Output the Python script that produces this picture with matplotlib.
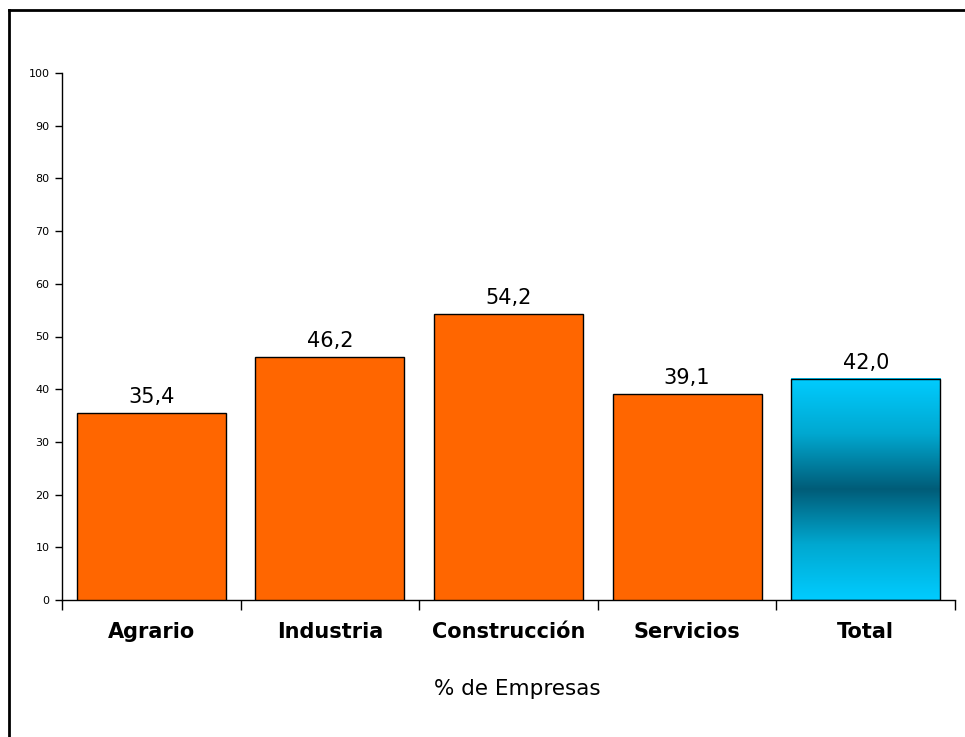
import matplotlib
matplotlib.use("Agg")
import matplotlib.pyplot as plt
import numpy as np
from matplotlib.colors import LinearSegmentedColormap
from matplotlib.lines import Line2D

categories = ["Agrario", "Industria", "Construcción", "Servicios", "Total"]
values = [35.4, 46.2, 54.2, 39.1, 42.0]
value_labels = ["35,4", "46,2", "54,2", "39,1", "42,0"]
yticks = [0, 10, 20, 30, 40, 50, 60, 70, 80, 90, 100]
xlabel = "% de Empresas"

plt.rcParams['font.family'] = ['DejaVu Sans']

fig = plt.figure(figsize=(9.65, 7.37), dpi=100)
ax = fig.add_axes([62/965, 1-600/737, 893/965, 527/737])

x = np.arange(len(categories))
width = 0.835
colors = ["#FF6600"] * 4 + ["none"]
bars = ax.bar(x, values, width=width, color=colors, edgecolor="black", linewidth=1.0, zorder=3)

# gradient fill for Total bar
cmap = LinearSegmentedColormap.from_list("tot", ["#00CCFF", "#00A8D0", "#005C78", "#00A8D0", "#00CCFF"])
tb = bars[-1]
bx, by = tb.get_x(), tb.get_y()
bw, bh = tb.get_width(), tb.get_height()
grad = np.linspace(0, 1, 256).reshape(-1, 1)
ax.imshow(grad, cmap=cmap, aspect="auto", extent=[bx, bx + bw, by, by + bh], zorder=2, origin="lower")

for xi, v, lab in zip(x, values, value_labels):
    ax.text(xi, v + 1.9, lab, ha="center", va="baseline", fontsize=15, color="black")

ax.set_xlim(-0.5, len(categories) - 0.5)
ax.set_ylim(0, 100)
ax.set_yticks(yticks)
ax.set_yticklabels([str(t) for t in yticks], fontsize=8)
ax.tick_params(axis="y", length=5, width=1, pad=4, direction="out")

ax.set_xticks(x)
ax.set_xticklabels(categories, fontsize=15, fontweight="bold")
ax.tick_params(axis="x", length=0, pad=16)
ax.set_xticks(np.arange(len(categories) + 1) - 0.5, minor=True)
ax.tick_params(axis="x", which="minor", length=7, width=1, direction="out")

ax.set_xlabel(xlabel, fontsize=15.5)
ax.xaxis.set_label_coords(0.5095, -0.150)

for s in ["top", "right"]:
    ax.spines[s].set_visible(False)
ax.spines["left"].set_linewidth(1)
ax.spines["bottom"].set_linewidth(1)

# figure border (top and left visible)
fig.add_artist(Line2D([9/965, 9/965], [0, 1-10/737], transform=fig.transFigure, color="black", linewidth=2))
fig.add_artist(Line2D([9/965, 1], [1-10/737, 1-10/737], transform=fig.transFigure, color="black", linewidth=2))

fig.savefig("out.png", dpi=100)
